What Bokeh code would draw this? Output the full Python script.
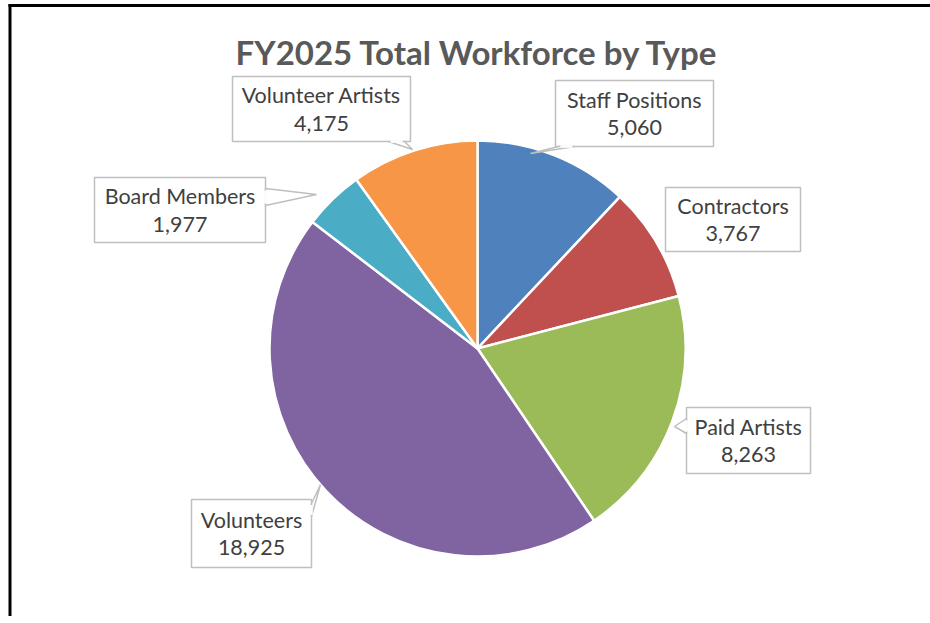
import numpy as np
from bokeh.plotting import figure
from bokeh.models import ColumnDataSource, Label, Range1d
from bokeh.core.properties import value
from bokeh.embed import file_html
from bokeh.resources import INLINE

# ---------------- data ----------------
categories = ["Staff Positions", "Contractors", "Paid Artists",
              "Volunteers", "Board Members", "Volunteer Artists"]
counts = [5060, 3767, 8263, 18925, 1977, 4175]
colors = ["#4F81BD", "#C0504D", "#9BBB59", "#8064A2", "#4BACC6", "#F79646"]
title_text = "FY2025 Total Workforce by Type"

# ---------------- layout (pixels, origin top-left) ----------------
W, H = 930, 616
CX, CY, R = 477, 348, 208

def Y(py):
    return H - py

# label boxes: left, right, top, bottom
box_layout = [
    (555, 713, 80, 146),   # Staff Positions
    (665, 800, 187, 251),  # Contractors
    (686, 810, 407, 473),  # Paid Artists
    (191, 311, 499, 567),  # Volunteers
    (94, 265, 177, 242),   # Board Members
    (232, 410, 76, 141),   # Volunteer Artists
]
# callout pointers: base point 1, base point 2, tip
pointer_layout = [
    ((558, 146), (574, 146), (530, 153)),
    None,
    ((686, 418), (686, 433), (674, 426)),
    ((311, 503), (311, 516), (320, 484)),
    ((265, 188), (265, 205), (316, 194)),
    ((388, 141), (404, 141), (412, 149)),
]

p = figure(width=W, height=H, x_range=Range1d(0, W), y_range=Range1d(0, H),
           x_axis_type=None, y_axis_type=None, toolbar_location=None,
           output_backend="svg", min_border=0, outline_line_color=None,
           background_fill_color="white", border_fill_color="white")
p.xgrid.visible = False
p.ygrid.visible = False

# white strip at the right edge (covers any edge artefact)
p.quad(left=W - 6, right=W + 6, top=H + 5, bottom=-5,
       fill_color="white", line_color=None)

# pie
total = float(sum(counts))
cum = np.concatenate([[0.0], np.cumsum(counts)]) / total
start = np.pi / 2 - 2 * np.pi * cum[:-1]
end = np.pi / 2 - 2 * np.pi * cum[1:]
src = ColumnDataSource(dict(cat=categories, val=counts, color=colors,
                            start=start, end=end))
p.wedge(x=CX, y=Y(CY), radius=R, radius_units="screen",
        start_angle="start", end_angle="end", direction="clock",
        fill_color="color", line_color="white", line_width=2.5, source=src)

# callout boxes
lbl_x, lbl_y1, lbl_y2, line1, line2 = [], [], [], [], []
for cat, v, box, ptr in zip(categories, counts, box_layout, pointer_layout):
    l, r, t, b = box
    p.quad(left=l, right=r, top=Y(t), bottom=Y(b), fill_color="white",
           line_color="#BFBFBF", line_width=1.5)
    if ptr is not None:
        (x1, y1), (x2, y2), (xt, yt) = ptr
        p.patch([x1, xt, x2], [Y(y1), Y(yt), Y(y2)], fill_color="white",
                line_color="#BFBFBF", line_width=1.5)
        # open the base of the pointer into the box
        fx = 0.12
        p.line([x1 + (x2 - x1) * fx, x2 - (x2 - x1) * fx],
               [Y(y1 + (y2 - y1) * fx), Y(y2 - (y2 - y1) * fx)],
               line_color="white", line_width=2.5)
    cx = (l + r) / 2
    cy = (t + b) / 2
    lbl_x.append(cx)
    lbl_y1.append(Y(cy - 14))
    lbl_y2.append(Y(cy + 14))
    line1.append(cat)
    line2.append(f"{v:,}")

tsrc = ColumnDataSource(dict(x=lbl_x, y1=lbl_y1, y2=lbl_y2, t1=line1, t2=line2))
for ycol, tcol in (("y1", "t1"), ("y2", "t2")):
    p.text(x="x", y=ycol, text=tcol, source=tsrc, text_align="center",
           text_baseline="middle", text_font=value("Lato"),
           text_font_size="21.5px", text_color="#404040")

# title
p.add_layout(Label(x=477, y=Y(51), text=title_text, text_align="center",
                   text_baseline="middle", text_font="Lato",
                   text_font_style="bold", text_font_size="33px",
                   text_color="#595959"))

# frame border of the screenshot (filled strips)
p.quad(left=8, right=W + 5, top=Y(3.5), bottom=Y(6.5),
       fill_color="black", line_color=None)
p.quad(left=8, right=11, top=Y(3.5), bottom=-5,
       fill_color="black", line_color=None)

open("out.html", "w").write(file_html(p, INLINE))
